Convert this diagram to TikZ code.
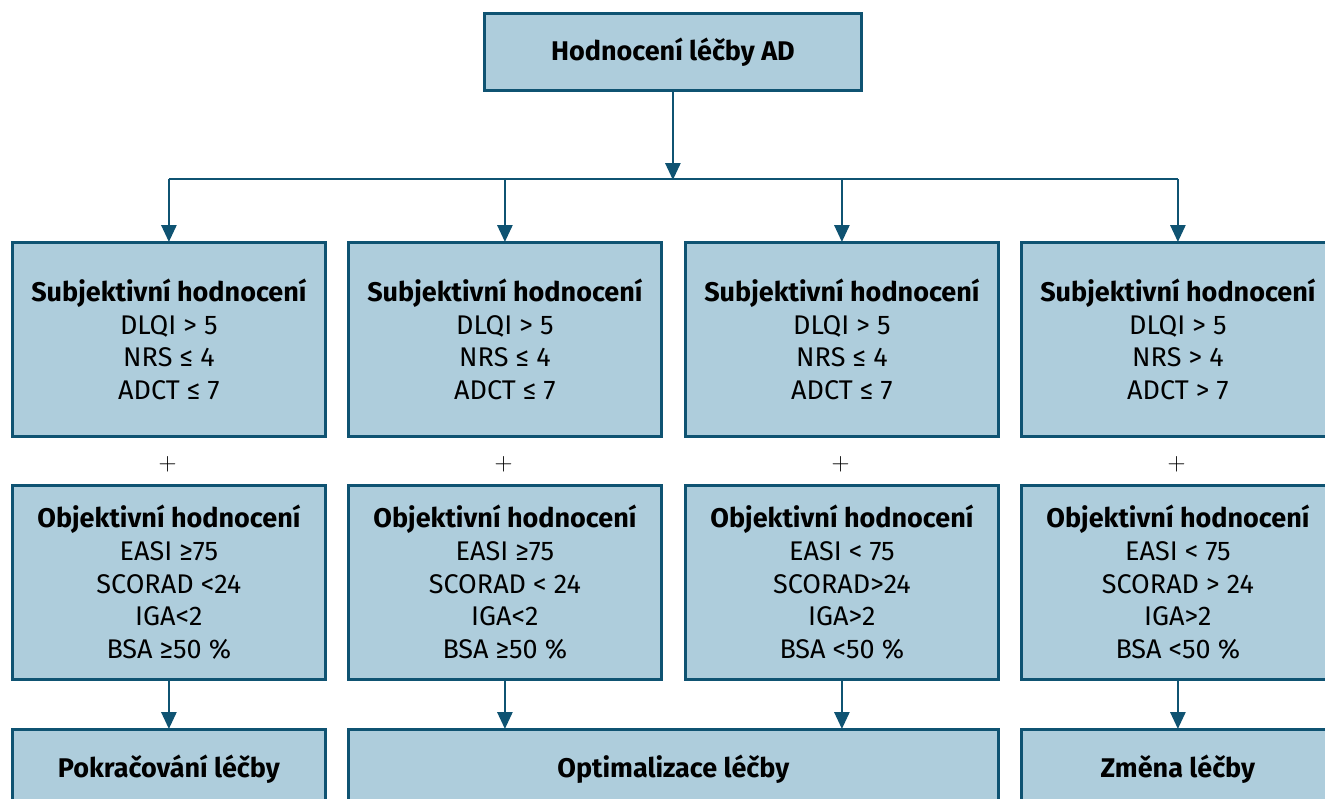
\documentclass[tikz,border=0pt]{standalone}
\usepackage{fontspec}
\setmainfont{Fira Sans}
\usetikzlibrary{arrows.meta}
\definecolor{boxfill}{HTML}{AECDDC}
\definecolor{boxline}{HTML}{0F5372}
\begin{document}
\begin{tikzpicture}[x=1pt,y=-1pt,
  box/.style={draw=boxline, fill=boxfill, line width=2.8pt, minimum width=313pt, minimum height=194pt, inner sep=0pt, anchor=north west, align=center, font=\fontsize{27}{32.7}\selectfont},
  endbox/.style={box, minimum height=80pt},
  plus/.style={font=\fontsize{27}{30}\selectfont, inner sep=0pt},
  link/.style={draw=boxline, line width=2.8pt},
  arr/.style={link, -{Triangle[width=15pt,length=17pt]}, shorten >=-1pt}]
\clip (0,0) rectangle (1325,798);
\fill[white] (0,0) rectangle (1325,798);
\node[box, minimum width=377pt, minimum height=77pt] (top) at (483,12) {\textbf{Hodnocení léčby AD}};
\coordinate (hub) at (top.south |- 0,179);
% subjective
\node[box] (s1) at (11,241) {\textbf{Subjektivní hodnocení}\\DLQI > 5\\NRS ≤ 4\\ADCT ≤ 7};
\node[box] (s2) at (347,241) {\textbf{Subjektivní hodnocení}\\DLQI > 5\\NRS ≤ 4\\ADCT ≤ 7};
\node[box] (s3) at (684,241) {\textbf{Subjektivní hodnocení}\\DLQI > 5\\NRS ≤ 4\\ADCT ≤ 7};
\node[box] (s4) at (1020,241) {\textbf{Subjektivní hodnocení}\\DLQI > 5\\NRS > 4\\ADCT > 7};
% plus
\node[plus] (p1) at (167.5,464) {$+$};
\node[plus] (p2) at (503.5,464) {$+$};
\node[plus] (p3) at (840.5,464) {$+$};
\node[plus] (p4) at (1176.5,464) {$+$};
% objective
\node[box] (o1) at (11,484) {\textbf{Objektivní hodnocení}\\EASI ≥75\\SCORAD <24\\IGA<2\\BSA ≥50 \%};
\node[box] (o2) at (347,484) {\textbf{Objektivní hodnocení}\\EASI ≥75\\SCORAD < 24\\IGA<2\\BSA ≥50 \%};
\node[box] (o3) at (684,484) {\textbf{Objektivní hodnocení}\\EASI < 75\\SCORAD>24\\IGA>2\\BSA <50 \%};
\node[box] (o4) at (1020,484) {\textbf{Objektivní hodnocení}\\EASI < 75\\SCORAD > 24\\IGA>2\\BSA <50 \%};
% results
\node[endbox] (b1) at (11,728) {\textbf{Pokračování léčby}};
\node[endbox, minimum width=650pt] (b2) at (347,728) {\textbf{Optimalizace léčby}};
\node[endbox] (b4) at (1020,728) {\textbf{Změna léčby}};
% connectors
\draw[arr] (top.south) -- (hub);
\draw[link] (s1.north |- hub) -- (s4.north |- hub);
\foreach \n in {s1,s2,s3,s4} \draw[arr] (\n.north |- hub) -- (\n.north);
\draw[arr] (o1) -- (b1);
\draw[arr] (o2.south) -- (o2.south |- b2.north);
\draw[arr] (o3.south) -- (o3.south |- b2.north);
\draw[arr] (o4) -- (b4);
\end{tikzpicture}
\end{document}
